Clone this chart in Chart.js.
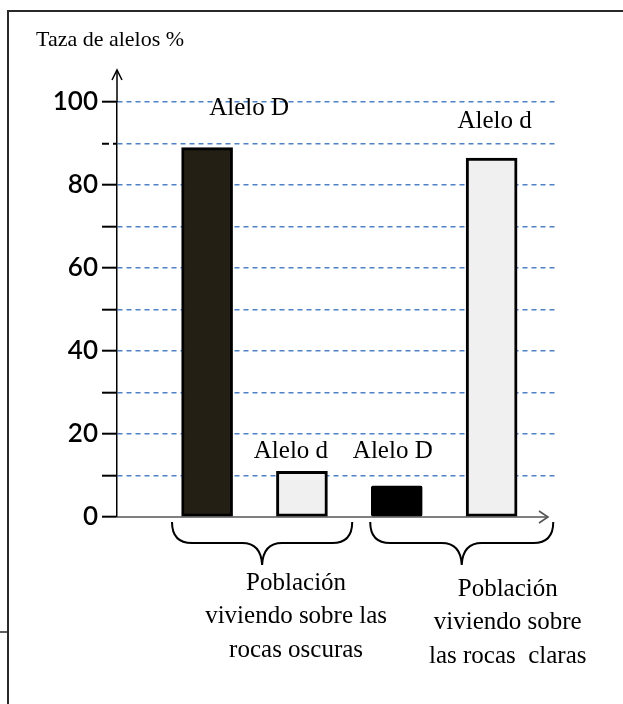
<!DOCTYPE html>
<html>
<head>
<meta charset="utf-8">
<script src="https://cdn.jsdelivr.net/npm/chart.js@4.4.1/dist/chart.umd.min.js"></script>
<style>
  html, body { margin: 0; padding: 0; background: #ffffff; }
  #wrap { width: 623px; height: 704px; }
</style>
</head>
<body>
<div id="wrap"><canvas id="c" width="623" height="704"></canvas></div>
<script>
// Allele frequency (%) per bar, left to right
const barLabels = ['Alelo D', 'Alelo d', 'Alelo D', 'Alelo d'];
const alleleRates = [89, 11, 7.5, 86.5];
const barColors = ['#231f14', '#f0f0f0', '#000000', '#f0f0f0'];

// Populations (two bars each)
const populations = [
  ['Población', 'viviendo sobre las', 'rocas oscuras'],
  ['Población', 'viviendo sobre', 'las rocas  claras']
];

// Y axis: labelled every 20, tick marks every 10
const yLabelled = [0, 20, 40, 60, 80, 100];
const yTitle = 'Taza de alelos %';

const SERIF = '"Liberation Serif", "Times New Roman", serif';
const SANS = 'Lato, "Open Sans", sans-serif';
const GRID_BLUE = '#4f81c4';

// label offsets (px) from each bar's top centre to the text baseline
const labelShift = [[42, -33], [-11, -13], [-4, -28], [3, -30]];
// brace spans in x-axis units, one per population
const braceSpan = [[0.63, 2.53], [2.72, 4.65]];
// horizontal shift of each population caption from its brace tip
const captionShift = [34, 46];

const decor = {
  id: 'decor',
  beforeDraw(chart) {
    const ctx = chart.ctx;
    ctx.save();
    ctx.fillStyle = '#ffffff';
    ctx.fillRect(0, 0, chart.width, chart.height);
    // outer frame
    ctx.strokeStyle = '#2a2a2a';
    ctx.lineWidth = 2;
    ctx.beginPath();
    ctx.moveTo(chart.width, 11);
    ctx.lineTo(8, 11);
    ctx.lineTo(8, chart.height);
    ctx.stroke();
    ctx.lineWidth = 1.5;
    ctx.beginPath();
    ctx.moveTo(0, 632);
    ctx.lineTo(8, 632);
    ctx.stroke();
    ctx.restore();
  },
  afterDatasetsDraw(chart) {
    const ctx = chart.ctx;
    const area = chart.chartArea;
    const xs = chart.scales.x;
    const ys = chart.scales.y;
    const y0 = ys.getPixelForValue(0);
    ctx.save();

    // x axis with arrow
    ctx.strokeStyle = '#555555';
    ctx.lineWidth = 1.6;
    const xEnd = area.right - 10;
    ctx.beginPath();
    ctx.moveTo(area.left, y0);
    ctx.lineTo(xEnd, y0);
    ctx.stroke();
    ctx.beginPath();
    ctx.moveTo(xEnd - 9, y0 - 6);
    ctx.lineTo(xEnd, y0);
    ctx.lineTo(xEnd - 9, y0 + 6);
    ctx.stroke();

    // y axis extension with arrow
    ctx.strokeStyle = '#000000';
    ctx.lineWidth = 1.5;
    const yTop = area.top - 32;
    ctx.beginPath();
    ctx.moveTo(area.left, area.top);
    ctx.lineTo(area.left, yTop);
    ctx.stroke();
    ctx.beginPath();
    ctx.moveTo(area.left - 5, yTop + 10);
    ctx.lineTo(area.left, yTop);
    ctx.lineTo(area.left + 5, yTop + 10);
    ctx.stroke();

    // axis title
    ctx.fillStyle = '#000000';
    ctx.font = '22px ' + SERIF;
    ctx.textAlign = 'left';
    ctx.textBaseline = 'alphabetic';
    ctx.fillText(yTitle, 36, 46);

    // bar labels
    const meta = chart.getDatasetMeta(0);
    ctx.font = '25px ' + SERIF;
    ctx.textAlign = 'center';
    ctx.textBaseline = 'alphabetic';
    meta.data.forEach((bar, i) => {
      const [dx, dy] = labelShift[i];
      ctx.fillText(barLabels[i], bar.x + dx, bar.y + dy);
    });

    // braces and population names
    ctx.lineWidth = 2;
    ctx.strokeStyle = '#000000';
    populations.forEach((lines, g) => {
      const x0 = xs.getPixelForValue(braceSpan[g][0]);
      const x1 = xs.getPixelForValue(braceSpan[g][1]);
      const mid = (x0 + x1) / 2;
      const top = y0 + 5, flat = y0 + 26, tip = y0 + 48;
      ctx.beginPath();
      ctx.moveTo(x0, top);
      ctx.quadraticCurveTo(x0, flat, x0 + 20, flat);
      ctx.lineTo(mid - 20, flat);
      ctx.quadraticCurveTo(mid - 1, flat, mid, tip);
      ctx.quadraticCurveTo(mid + 1, flat, mid + 20, flat);
      ctx.lineTo(x1 - 20, flat);
      ctx.quadraticCurveTo(x1, flat, x1, top);
      ctx.stroke();

      ctx.font = '25px ' + SERIF;
      ctx.textAlign = 'center';
      ctx.textBaseline = 'middle';
      const cx = mid + captionShift[g];
      const ty = y0 + 66 + g * 6;
      lines.forEach((t, k) => ctx.fillText(t, cx, ty + k * 33.5));
    });
    ctx.restore();
  }
};

new Chart(document.getElementById('c'), {
  type: 'bar',
  data: {
    datasets: [{
      data: alleleRates.map((v, i) => ({ x: i + 1, y: v })),
      backgroundColor: barColors,
      borderColor: '#000000',
      borderWidth: 3,
      borderSkipped: false,
      borderRadius: [0, 0, 2, 0],
      barThickness: 51
    }]
  },
  options: {
    responsive: false,
    animation: false,
    events: [],
    layout: { padding: { left: 0, top: 102, right: 65, bottom: 187 } },
    plugins: { legend: { display: false }, tooltip: { enabled: false }, title: { display: false } },
    scales: {
      x: {
        type: 'linear',
        offset: false,
        min: 0.05,
        max: 4.7,
        display: false
      },
      y: {
        min: 0,
        max: 100,
        afterFit(s) { s.width = 117; },
        afterBuildTicks(s) {
          s.ticks = [];
          for (let v = 0; v <= 100; v += 10) s.ticks.push({ value: v });
        },
        ticks: {
          padding: 4,
          color: '#000000',
          font: { family: SANS, size: 26, weight: '600' },
          callback: (v) => (yLabelled.includes(v) ? String(v) : '')
        },
        border: { display: true, color: '#000000', width: 1.5, dash: [5, 4] },
        grid: {
          drawTicks: true,
          tickLength: 15,
          tickColor: '#000000',
          tickWidth: 2,
          tickBorderDash: (c) => (c.tick && c.tick.value === 90 ? [7, 4] : []),
          color: (c) => (c.tick && c.tick.value === 0 ? 'rgba(0,0,0,0)' : GRID_BLUE),
          lineWidth: 1.4
        }
      }
    }
  },
  plugins: [decor]
});
</script>
</body>
</html>
